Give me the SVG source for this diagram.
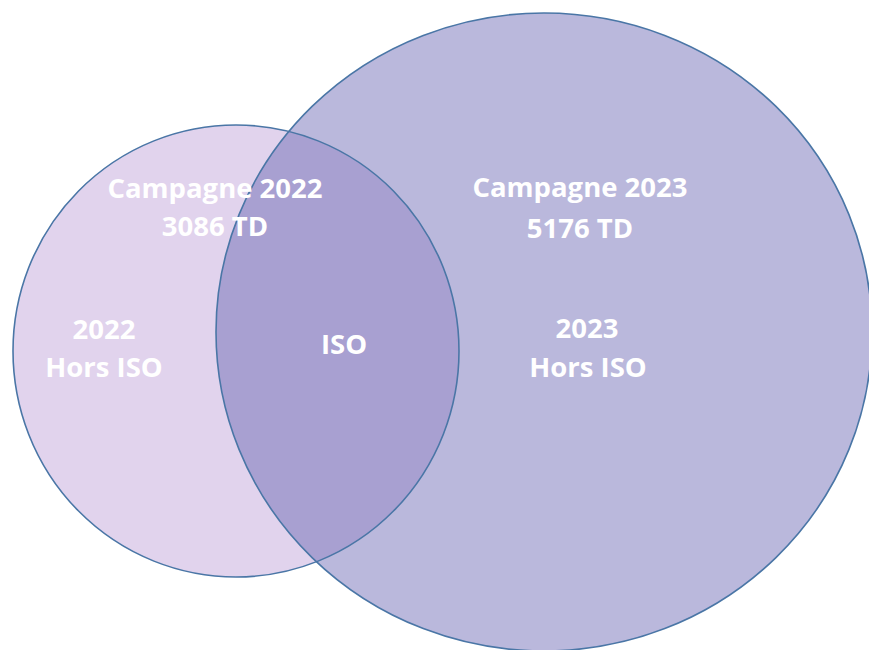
<svg xmlns="http://www.w3.org/2000/svg" width="869" height="650" viewBox="0 0 869 650">
<style>
.lbl{font-family:"Open Sans","Liberation Sans",sans-serif;font-weight:bold;font-size:27.5px;fill:#ffffff;text-anchor:middle}
.edge{fill:none;stroke:#4A76A6;stroke-width:1.6}
</style>
<defs>
<clipPath id="clipSmall"><ellipse cx="236" cy="351" rx="223" ry="226"/></clipPath>
</defs>
<rect width="869" height="650" fill="#ffffff"/>
<g id="set2022">
<ellipse cx="236" cy="351" rx="223" ry="226" fill="#E1D3ED"/>
</g>
<g id="set2023">
<ellipse cx="544" cy="332" rx="328" ry="319" fill="#BAB8DC"/>
</g>
<g id="iso">
<ellipse cx="544" cy="332" rx="328" ry="319" fill="#A8A0D1" clip-path="url(#clipSmall)"/>
</g>
<g id="outlines">
<ellipse class="edge" cx="236" cy="351" rx="223" ry="226"/>
<ellipse class="edge" cx="544" cy="332" rx="328" ry="319"/>
</g>
<g id="labels">
<text class="lbl" x="215" y="198">Campagne 2022</text>
<text class="lbl" x="215" y="236">3086 TD</text>
<text class="lbl" x="104" y="339">2022</text>
<text class="lbl" x="104" y="377">Hors ISO</text>
<text class="lbl" x="344" y="354">ISO</text>
<text class="lbl" x="580" y="197">Campagne 2023</text>
<text class="lbl" x="580" y="238">5176 TD</text>
<text class="lbl" x="587" y="338">2023</text>
<text class="lbl" x="588" y="377">Hors ISO</text>
</g>
</svg>
